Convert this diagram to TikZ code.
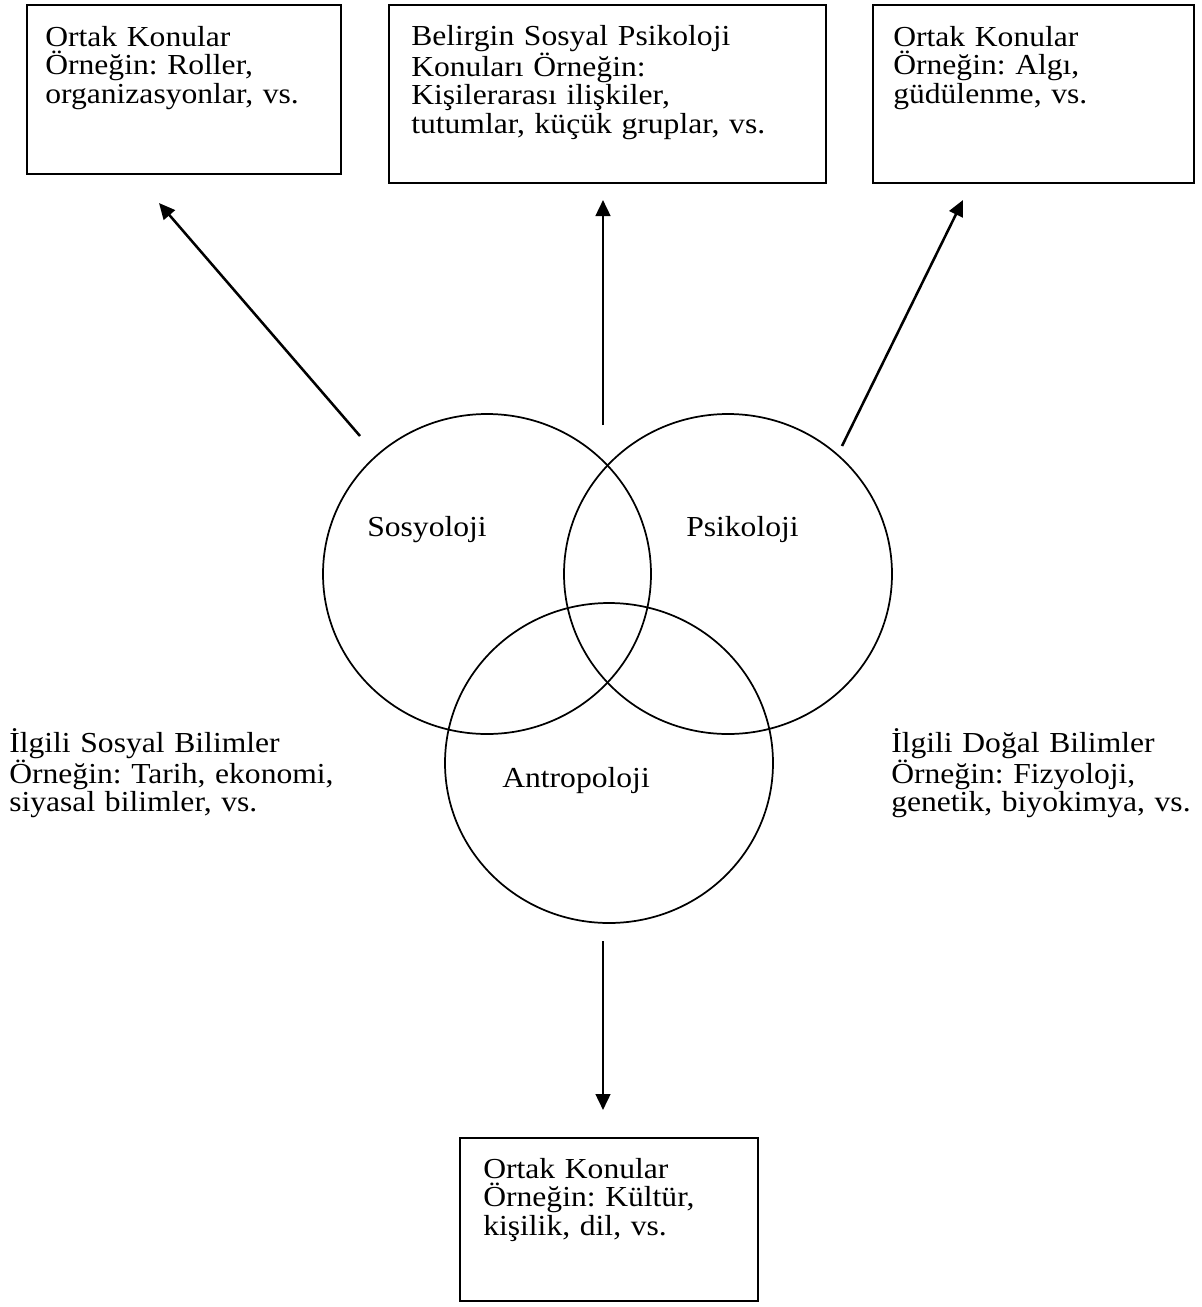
\documentclass[tikz,border=0pt]{standalone}
\usepackage{fontspec}
\setmainfont{Liberation Serif}[FakeStretch=1.09]
\usetikzlibrary{positioning,arrows.meta,calc,shapes.geometric}
\setlength{\lineskiplimit}{-20pt}
\frenchspacing

\begin{document}
\begin{tikzpicture}[x=0.75pt,y=-0.75pt,
  box/.style={draw, line width=1.7pt, rectangle, inner sep=0pt, anchor=north west},
  word/.style={inner sep=0pt, anchor=base west, font=\fontsize{21.75pt}{21.4pt}\selectfont},
  txt/.style={word, text width=300pt, align=left},
  field/.style={draw, ellipse, line width=1.3pt, minimum width=246pt, minimum height=240pt, inner sep=0pt},
  arr/.style={-{Triangle[length=12pt,width=11pt]}, line width=1.9pt}]
\useasboundingbox (0,0) rectangle (1202,1307);

% boxes
\node[box, minimum width=235.5pt, minimum height=126.75pt] (boxL) at (26,4) {};
\node[box, minimum width=327.75pt, minimum height=133.5pt] (boxM) at (388,4) {};
\node[box, minimum width=240.75pt, minimum height=133.5pt] (boxR) at (872,4) {};
\node[box, minimum width=223.5pt, minimum height=122.25pt] (boxB) at (459,1137) {};

\node[txt] (tL) at (45,46) {Ortak Konular\\Örneğin: Roller,\\organizasyonlar, vs.};
\node[txt] (tM) at (411,45) {Belirgin Sosyal Psikoloji\\Konuları Örneğin:\\Kişilerarası ilişkiler,\\tutumlar, küçük gruplar, vs.};
\node[txt] (tR) at (893,46) {Ortak Konular\\Örneğin: Algı,\\güdülenme, vs.};
\node[txt] (tB) at (483,1178) {Ortak Konular\\Örneğin: Kültür,\\kişilik, dil, vs.};

% venn
\node[field] (soc) at (487,574) {};
\node[field] (psy) at (728,574) {};
\node[field] (ant) at (609,763) {};
\node[word] (lsoc) at (367,536) {Sosyoloji};
\node[word] (lpsy) at (686,536) {Psikoloji};
\node[word] (lant) at (502,787) {Antropoloji};

% side texts
\node[txt] (sideL) at (9,752) {İlgili Sosyal Bilimler\\Örneğin: Tarih, ekonomi,\\siyasal bilimler, vs.};
\node[txt] (sideR) at (891,752) {İlgili Doğal Bilimler\\Örneğin: Fizyoloji,\\genetik, biyokimya, vs.};

% arrows
\coordinate (aL) at (360,436);
\coordinate (bL) at (159,203);
\coordinate (aM) at (603,425);
\coordinate (bM) at (603,200);
\coordinate (aR) at (842,446);
\coordinate (bR) at (963,200);
\coordinate (aB) at (603,941);
\coordinate (bB) at (603,1110);
\draw[arr] (aL) -- (bL);
\draw[arr] (aM) -- (bM);
\draw[arr] (aR) -- (bR);
\draw[arr] (aB) -- (bB);
\end{tikzpicture}
\end{document}
